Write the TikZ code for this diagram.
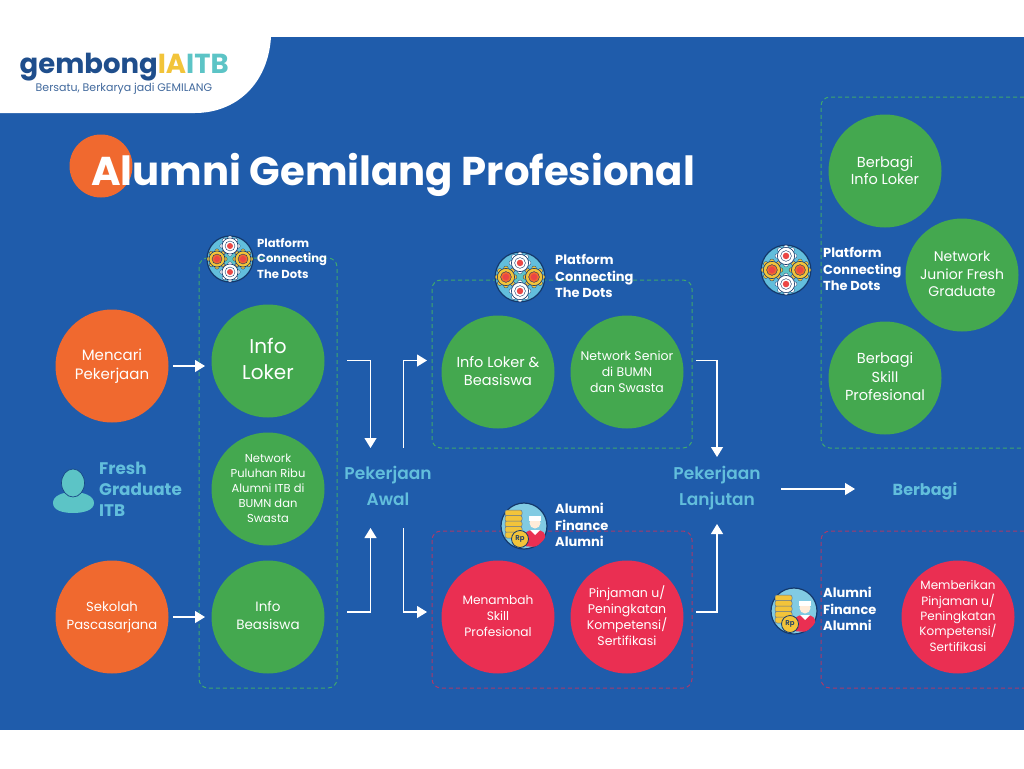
\documentclass[tikz,border=0pt]{standalone}
\usepackage{fontspec}
\setmainfont{Poppins}
\newfontfamily\semib{Poppins SemiBold}
\newfontfamily\boldf{Poppins Bold}
\usetikzlibrary{arrows.meta}
\definecolor{bluebg}{HTML}{1F5CAB}
\definecolor{orangec}{HTML}{F0692F}
\definecolor{greenc}{HTML}{44A84F}
\definecolor{redc}{HTML}{EA2F52}
\definecolor{lightb}{HTML}{62BEDC}
\definecolor{navy}{HTML}{1F4E8C}
\definecolor{dashg}{HTML}{3FA76F}
\definecolor{dashr}{HTML}{A93A6B}
\definecolor{yel}{HTML}{F2C43A}
\definecolor{teal2}{HTML}{5CC4C6}
\definecolor{darki}{HTML}{14386B}
% bubble: colour, name, x, y, text offset, font, text
\newcommand\bub[7]{%
 \node[circle,minimum size=113pt,inner sep=0pt,fill=#1] (#2) at (#3,#4) {};
 \node[bubtext,font=#6] (#2-text) at (#3,#4+#5) {#7};
}
\tikzset{
 x=1pt,y=-1pt,
 bubtext/.style={align=center,text=white,inner sep=0pt},
 dashbox/.style={draw=dashg,line width=1pt,dash pattern=on 4pt off 3pt,rounded corners=9pt},
 dashboxr/.style={draw=dashr,line width=1pt,dash pattern=on 4pt off 3pt,rounded corners=9pt},
 flow/.style={draw=white,line width=1.2pt,-{Triangle[length=10pt,width=12pt]}},
 lab/.style={align=left,anchor=west,text=white,inner sep=0pt,font=\boldf\fontsize{13}{16.5}\selectfont},
 stage/.style={align=center,text=lightb,inner sep=0pt,font=\semib\fontsize{17}{26}\selectfont},
 gearicon/.pic={
  \fill[lightb,draw=darki,line width=1.2pt] (0,0) circle (23);
  \fill[teal2] (0,-8) -- (8,0) -- (0,8) -- (-8,0) -- cycle;
  \foreach \dx/\dy/\col/\rng in {0/-13/white/white,0/13/white/white,-13/0/yel/orangec,13/0/yel/orangec}{
   \foreach \a in {0,45,...,315}{\fill[\col,draw=darki,line width=.3pt] (\dx,\dy) ++(\a:8) circle (2.2);}
   \fill[\col,draw=darki,line width=.6pt] (\dx,\dy) circle (8);
   \fill[\rng,draw=darki,line width=.4pt] (\dx,\dy) circle (5);
   \fill[redc!60!orangec] (\dx,\dy) circle (3);
  }
 },
 financeicon/.pic={
  \fill[lightb!80!white,draw=darki,line width=1.2pt] (0,0) circle (23);
  \foreach \yy in {-13,-7.5,-2,3.5,9}{\fill[yel,draw=darki!70,line width=.5pt,rounded corners=2pt] (-19,\yy-3) rectangle (-2,\yy+3);}
  \fill[redc,rounded corners=3pt] (-1,20) -- (-1,9) -- (5,4) -- (17,4) -- (22,9) -- (20,14) -- (12,21) -- cycle;
  \fill[white] (6,4) -- (16,4) -- (11,9) -- cycle;
  \fill[white!85!orange] (11,-3) circle (5.5);
  \fill[white] (5,-10) rectangle (17,-5);
  \fill[yel,draw=darki,line width=.8pt] (-4,13) circle (8.5);
  \node[text=darki,inner sep=0pt,font=\semib\fontsize{7}{7}\selectfont] at (-4,13) {Rp};
 }
}
\begin{document}
\begin{tikzpicture}
\useasboundingbox (0,0) rectangle (1024,768);
\fill[white] (0,0) rectangle (1024,768);
\fill[bluebg] (0,37) rectangle (1024,730);
% logo panel
\fill[white] (0,37) -- (271,37) .. controls (268,85) and (235,113) .. (195,113) -- (0,113) -- cycle;
\node[anchor=base west,inner sep=0pt,font=\boldf\fontsize{27.5}{27.5}\selectfont] (logo) at (19.5,74)
 {\textcolor{navy}{gembong}\textcolor{yel}{IA}\textcolor{teal2}{ITB}};
\node[inner sep=0pt,text=navy!85!white,font=\fontsize{11}{11}\selectfont] (tagline) at (124,89) {Bersatu, Berkarya jadi GEMILANG};
% title
\fill[orangec] (101,166) circle (31.5);
\node[anchor=base west,inner sep=0pt,text=white,font=\boldf\fontsize{40.2}{40.2}\selectfont] (title) at (91,185) {Alumni Gemilang Profesional};
% dashed boxes
\draw[dashbox] (199,258) rectangle (337,688);
\draw[dashbox] (432,280) rectangle (692,448);
\draw[dashboxr] (432,531) rectangle (692,688);
\draw[dashbox] (1024,97) -- (821,97) -- (821,448) -- (1024,448);
\draw[dashboxr] (1024,531) -- (821,531) -- (821,688) -- (1024,688);
% circles
\bub{orangec}{cari}{112}{366}{0}{\fontsize{15}{19}\selectfont}{Mencari\\Pekerjaan}
\bub{orangec}{sekolah}{112}{617}{0}{\fontsize{13.2}{18}\selectfont}{Sekolah\\Pascasarjana}
\bub{greenc}{info}{268}{361}{-2}{\fontsize{20}{26}\selectfont}{Info\\Loker}
\bub{greenc}{network}{268}{489}{-1}{\fontsize{11.5}{15}\selectfont}{Network\\Puluhan Ribu\\Alumni ITB di\\BUMN dan\\Swasta}
\bub{greenc}{beasiswa}{268}{617}{-1.5}{\fontsize{13.5}{18.5}\selectfont}{Info\\Beasiswa}
\bub{greenc}{lokerb}{498}{372}{-1}{\fontsize{14.5}{18}\selectfont}{Info Loker \&\\Beasiswa}
\bub{greenc}{senior}{627}{372}{0}{\fontsize{12.5}{16}\selectfont}{Network Senior\\di BUMN\\dan Swasta}
\bub{redc}{skill}{498}{617}{-1}{\fontsize{12.2}{16}\selectfont}{Menambah\\Skill\\Profesional}
\bub{redc}{pinjam}{627}{617}{-1}{\fontsize{12.5}{16}\selectfont}{Pinjaman u/\\Peningkatan\\Kompetensi/\\Sertifikasi}
\bub{greenc}{bagi1}{885}{171}{-0.5}{\fontsize{14.5}{17.5}\selectfont}{Berbagi\\Info Loker}
\bub{greenc}{junior}{962}{275}{-1}{\fontsize{14}{17.5}\selectfont}{Network\\Junior Fresh\\Graduate}
\bub{greenc}{bagi2}{885}{378}{-1}{\fontsize{14.5}{18.5}\selectfont}{Berbagi\\Skill\\Profesional}
\bub{redc}{beri}{958}{617}{-1}{\fontsize{12}{15.3}\selectfont}{Memberikan\\Pinjaman u/\\Peningkatan\\Kompetensi/\\Sertifikasi}
% icons and labels
\pic at (230,259) {gearicon};
\pic[scale=1.08] at (520,277) {gearicon};
\pic[scale=1.08] at (786,270) {gearicon};
\pic at (524,526) {financeicon};
\pic at (794,611) {financeicon};
\node[lab,font=\boldf\fontsize{11.6}{15.5}\selectfont] (pl1) at (257,258) {Platform\\Connecting\\The Dots};
\node[lab] (pl2) at (555,276) {Platform\\Connecting\\The Dots};
\node[lab] (pl3) at (823,269) {Platform\\Connecting\\The Dots};
\node[lab] (fin1) at (555,525) {Alumni\\Finance\\Alumni};
\node[lab] (fin2) at (823,609) {Alumni\\Finance\\Alumni};
% fresh graduate
\fill[teal2] (53,503) .. controls (53,496) and (62,492) .. (73,492) .. controls (84,492) and (94,496) .. (94,503) .. controls (94,510) and (84,513) .. (73,513) .. controls (62,513) and (53,510) .. (53,503) -- cycle;
\fill[teal2,draw=darki!60!bluebg,line width=.7pt] (73,483) ellipse (11.5 and 14);
\node[align=left,anchor=west,inner sep=0pt,text=lightb,font=\boldf\fontsize{16.8}{21}\selectfont] (fresh) at (99,489) {Fresh\\Graduate\\ITB};
% stages
\node[stage] (awal) at (388,486) {Pekerjaan\\Awal};
\node[stage] (lanjut) at (717,488) {Pekerjaan\\Lanjutan};
\node[text=lightb,inner sep=0pt,font=\boldf\fontsize{16}{16}\selectfont] (berbagi) at (925,491) {Berbagi};
% connectors
\coordinate (i1) at (173,366); \coordinate (i2) at (205,366);
\coordinate (i3) at (173,617); \coordinate (i4) at (205,617);
\draw[flow] (i1) -- (i2);
\draw[flow] (i3) -- (i4);
\coordinate (a1) at (347,360.5); \coordinate (a2) at (370.5,448);
\coordinate (b1) at (347,612); \coordinate (b2) at (370.5,528);
\coordinate (c1) at (403.5,448); \coordinate (c2) at (427,360.5);
\coordinate (d1) at (403.5,528); \coordinate (d2) at (427,612);
\coordinate (e1) at (696,360.5); \coordinate (e2) at (717,457);
\coordinate (f1) at (696,612); \coordinate (f2) at (717,524);
\coordinate (g1) at (781,489); \coordinate (g2) at (855,489);
\draw[flow] (a1) -| (a2);
\draw[flow] (b1) -| (b2);
\draw[flow] (c1) |- (c2);
\draw[flow] (d1) |- (d2);
\draw[flow] (e1) -| (e2);
\draw[flow] (f1) -| (f2);
\draw[flow] (g1) -- (g2);
\end{tikzpicture}
\end{document}
